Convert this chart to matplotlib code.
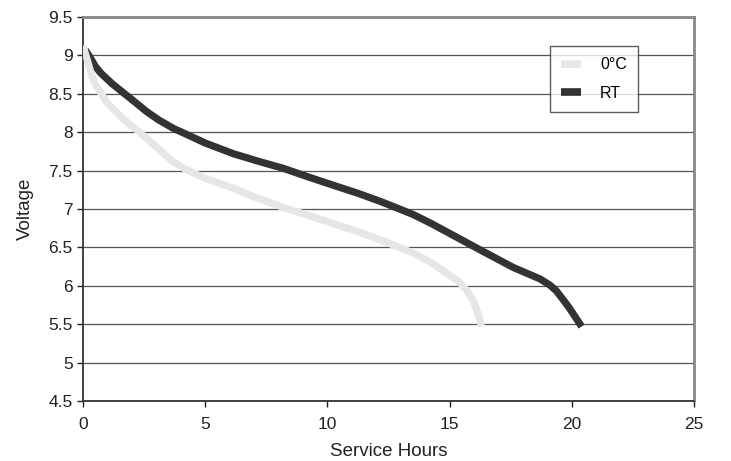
import matplotlib

matplotlib.use("Agg")
import matplotlib.pyplot as plt

plt.rcParams["font.family"] = ["Liberation Sans", "DejaVu Sans"]

# 방전 곡선
COLD_H = [0.0, 0.15, 0.33, 0.5, 0.73, 1.0, 1.4, 1.8, 2.2, 2.6, 3.1, 3.6, 4.12, 5.0, 6.16, 7.0, 8.2,
          9.2, 10.24, 11.3, 12.16, 13.5, 14.2, 14.9, 15.4, 15.7, 15.96, 16.15, 16.3]
COLD_V = [9.13, 8.97, 8.77, 8.63, 8.51, 8.38, 8.25, 8.13, 8.03, 7.92, 7.78, 7.64, 7.53, 7.40, 7.27,
          7.16, 7.02, 6.92, 6.81, 6.70, 6.60, 6.43, 6.31, 6.16, 6.05, 5.94, 5.81, 5.65, 5.47]
RT_H = [0.1, 0.3, 0.5, 0.73, 1.2, 1.67, 2.1, 2.6, 3.1, 3.7, 4.12, 5.0, 6.16, 7.2, 8.2, 9.2, 10.24,
        11.3, 12.16, 12.8, 13.5, 14.2, 14.9, 16.24, 17.6, 18.7, 19.1, 19.35, 19.67, 19.9, 20.15, 20.4]
RT_V = [9.07, 8.97, 8.86, 8.77, 8.63, 8.51, 8.40, 8.27, 8.16, 8.05, 7.99, 7.86, 7.72, 7.62, 7.53,
        7.42, 7.31, 7.20, 7.10, 7.02, 6.93, 6.82, 6.70, 6.47, 6.24, 6.09, 6.01, 5.94, 5.81, 5.71, 5.59, 5.47]
LABELS = ["0°C", "RT"]
X_TICKS = [0, 5, 10, 15, 20, 25]
Y_TICKS = [4.5, 5, 5.5, 6, 6.5, 7, 7.5, 8, 8.5, 9, 9.5]

fig = plt.figure(figsize=(7.31, 4.61), dpi=100)
ax = fig.add_axes([0.1135, 0.13, 0.836, 0.833])

ax.plot(COLD_H, COLD_V, color="#e6e6e6", lw=5.2, solid_capstyle="butt", solid_joinstyle="round",
        label=LABELS[0], zorder=4)
ax.plot(RT_H, RT_V, color="#333333", lw=5.2, solid_capstyle="butt", solid_joinstyle="round",
        label=LABELS[1], zorder=3)

ax.set_xlim(0, 25)
ax.set_ylim(4.5, 9.5)
ax.set_xticks(X_TICKS)
ax.set_yticks(Y_TICKS)
ax.set_yticklabels([f"{v:g}" for v in Y_TICKS])
ax.tick_params(direction="out", length=4, width=1, labelsize=12.5, colors="#222222")
ax.tick_params(axis="x", pad=7.5)
ax.tick_params(axis="y", pad=3.5)
ax.grid(axis="y", color="#555555", lw=0.9, zorder=1)

for s in ["left", "bottom"]:
    ax.spines[s].set_color("#333333")
    ax.spines[s].set_linewidth(1.3)
for s in ["top", "right"]:
    ax.spines[s].set_color("#888888")
    ax.spines[s].set_linewidth(2)

ax.set_xlabel("Service Hours", fontsize=13.5, color="#222222", labelpad=8)
ax.set_ylabel("Voltage", fontsize=13.5, color="#222222", labelpad=10)

leg = ax.legend(loc="upper left", bbox_to_anchor=(0.764, 0.924), frameon=True, fancybox=False,
                fontsize=11.5, handlelength=1.25, handletextpad=1.2, borderpad=0.7,
                labelspacing=0.85, borderaxespad=0)
leg.get_frame().set_edgecolor("#333333")
leg.get_frame().set_linewidth(1)
for h in leg.get_lines():
    h.set_linewidth(5.5)

fig.savefig("out.png", dpi=100, facecolor="white")
